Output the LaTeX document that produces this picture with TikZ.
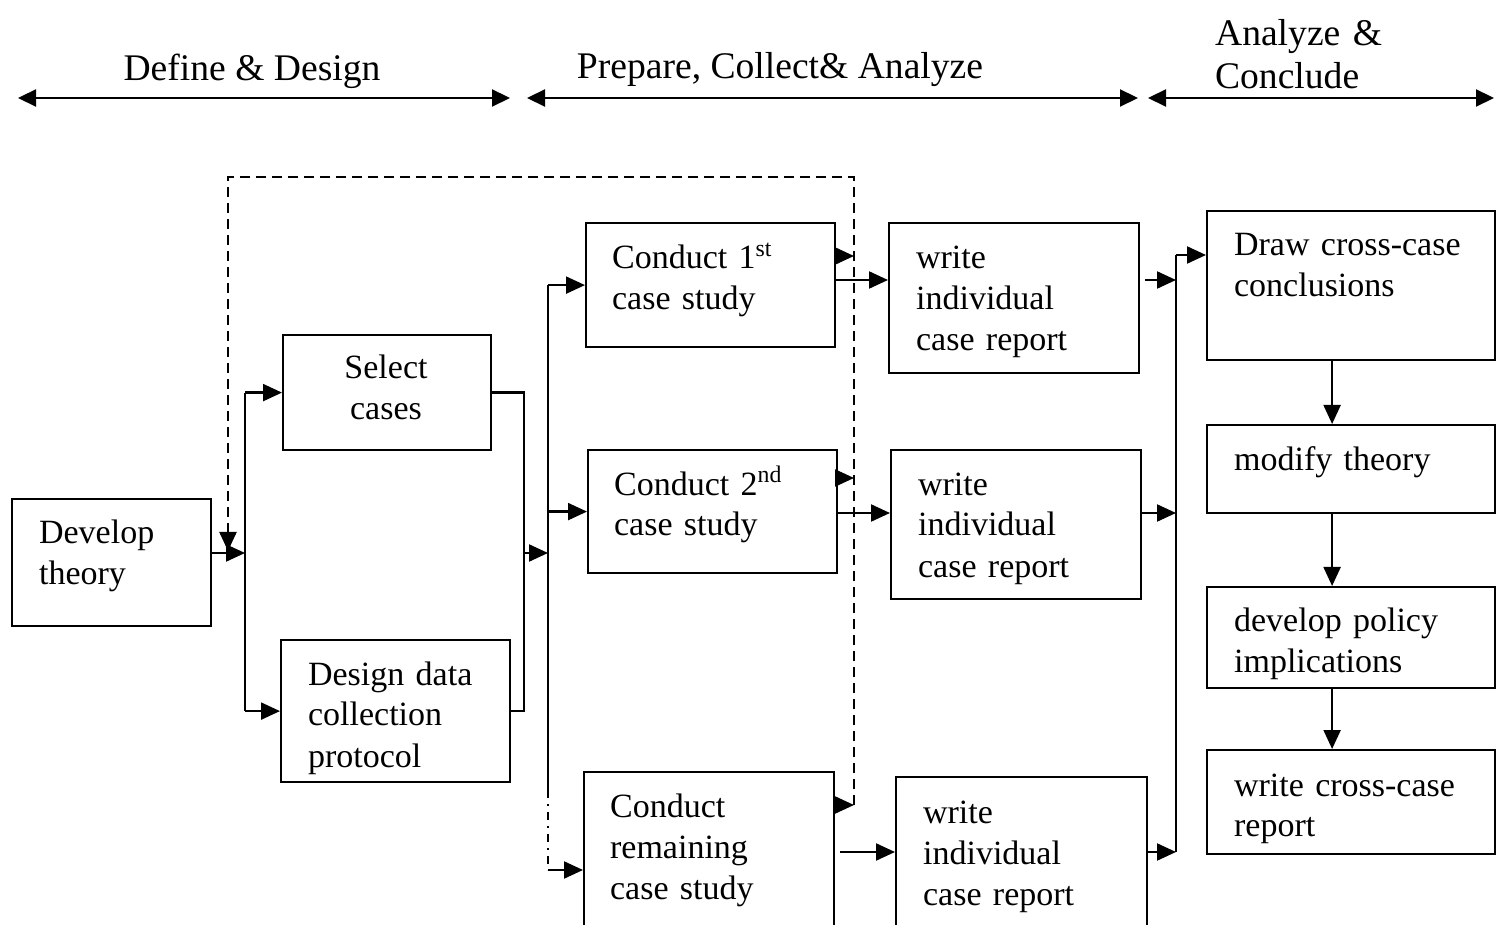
\documentclass[tikz,border=0pt]{standalone}
\usepackage{fontspec}
\setmainfont{Liberation Serif}
\usetikzlibrary{arrows.meta}
\begin{document}
\begin{tikzpicture}[x=0.5pt,y=-0.5pt, line width=1.1pt,
 arr/.style={-{Triangle[length=9.5pt,width=8.5pt]}},
 dbl/.style={{Triangle[length=9pt,width=8.5pt]}-{Triangle[length=9pt,width=8.5pt]}},
 box/.style={draw, inner sep=0pt, anchor=north west},
 bx/.style 2 args={box, minimum width=#1*0.5pt, minimum height=#2*0.5pt},
 lbl/.style={font=\fontsize{17pt}{20.5pt}\selectfont, inner sep=0pt, text width=140pt, align=left, anchor=base west},
 hdr/.style={font=\fontsize{18.8pt}{21.5pt}\selectfont, inner sep=0pt, anchor=base},
 fb/.style={dash pattern=on 5pt off 3pt},
 dd/.style={dash pattern=on 4pt off 3pt on 1pt off 3pt}]
\useasboundingbox (0,0) rectangle (1496,925);
\clip (0,0) rectangle (1496,925);

% header
\coordinate (h1a) at (18,98);   \coordinate (h1b) at (510,98);
\coordinate (h2a) at (527,98);  \coordinate (h2b) at (1138,98);
\coordinate (h3a) at (1148,98); \coordinate (h3b) at (1494,98);
\draw[dbl] (h1a) -- (h1b);
\draw[dbl] (h2a) -- (h2b);
\draw[dbl] (h3a) -- (h3b);
\node[hdr] (t1) at (252,81) {Define \& Design};
\node[hdr] (t2) at (780,79) {Prepare, Collect\& Analyze};
\node[hdr, anchor=base west, align=left, text width=150pt] (t3) at (1214,46) {Analyze \&\\Conclude};

% boxes
\node[bx={199}{127}] (dev) at (11,498) {};
\node[bx={208}{115}] (sel) at (282,334) {};
\node[bx={229}{142}] (des) at (280,639) {};
\node[bx={249}{124}] (c1) at (585,222) {};
\node[bx={249}{123}] (c2) at (587,449) {};
\node[bx={250}{169}] (c3) at (583,771) {};
\node[bx={250}{150}] (w1) at (888,222) {};
\node[bx={250}{149}] (w2) at (890,449) {};
\node[bx={251}{164}] (w3) at (895,776) {};
\node[bx={288}{149}] (dr) at (1206,210) {};
\node[bx={288}{88}]  (mt) at (1206,424) {};
\node[bx={288}{101}] (dp) at (1206,586) {};
\node[bx={288}{104}] (wr) at (1206,749) {};

% texts
\node[lbl] (ldev) at (38,544) {Develop\\theory};
\node[lbl, align=center, anchor=base, text width=100pt] (lsel) at (386,379) {Select\\cases};
\node[lbl] (ldes) at (307,685) {Design data\\collection\\protocol};
\node[lbl] (lc1) at (611,269) {Conduct 1\textsuperscript{st}\\case study};
\node[lbl] (lc2) at (613,495) {Conduct 2\textsuperscript{nd}\\case study};
\node[lbl] (lc3) at (609,817) {Conduct\\remaining\\case study};
\node[lbl] (lw1) at (915,269) {write\\individual\\case report};
\node[lbl] (lw2) at (917,495) {write\\individual\\case report};
\node[lbl] (lw3) at (922,823) {write\\individual\\case report};
\node[lbl] (ldr) at (1233,256) {Draw cross-case\\conclusions};
\node[lbl] (lmt) at (1233,471) {modify theory};
\node[lbl] (ldp) at (1233,632) {develop policy\\implications};
\node[lbl] (lwr) at (1233,796) {write cross-case\\report};

% junction coordinates
\coordinate (jA) at (245,553);
\coordinate (jB) at (524,553);
\coordinate (jC) at (548,553);
\coordinate (jD) at (548,870);
\coordinate (jE) at (548,790);

% develop -> select / design
\draw[arr] (dev.east |- jA) -- (jA);
\draw (sel.west -| jA) -- (des.west -| jA);
\draw[arr] (sel.west -| jA) -- (sel.west);
\draw[arr] (des.west -| jA) -- (des.west);

% select / design -> conduct bus
\draw (sel.east) -| (jB) |- (des.east);
\draw[arr] (jB) -- (jC);
\draw (c1.west -| jC) -- (jE);
\draw[dd] (jE) -- (jD);
\draw[arr] (c1.west -| jC) -- (c1.west);
\draw[arr] (c2.west -| jC) -- (c2.west);
\draw[arr] (jD) -- (c3.west |- jD);

% feedback dashed loop
\coordinate (f1) at (854,256);
\coordinate (f2) at (854,478);
\coordinate (f3) at (854,805);
\coordinate (fL) at (228,177);
\coordinate (fEnd) at (228,551);
\draw[arr] (c1.east |- f1) -- (f1);
\draw[arr] (c2.east |- f2) -- (f2);
\draw[arr] (c3.east |- f3) -- (f3);
\draw[fb, arr] (f3) |- (fL) -- (fEnd);

% conduct -> write
\coordinate (k1) at (0,280);
\coordinate (k2) at (0,513);
\coordinate (k3) at (0,852);
\draw[arr] (c1.east |- k1) -- (w1.west |- k1);
\draw[arr] (c2.east |- k2) -- (w2.west |- k2);
\draw[arr] ([xshift=2.5pt]c3.east |- k3) -- (w3.west |- k3);

% write -> right bus
\coordinate (b1) at (1176,280);
\coordinate (b2) at (1176,513);
\coordinate (b3) at (1176,852);
\coordinate (bT) at (1176,255);
\draw[arr] ([xshift=2.5pt]w1.east |- b1) -- (b1);
\draw[arr] (w2.east |- b2) -- (b2);
\draw[arr] (w3.east |- b3) -- (b3);
\draw (b3) -- (bT);
\draw[arr] (bT) -- (dr.west |- bT);

% right column
\draw[arr] ([xshift=-9.5pt]dr.south) -- ([xshift=-9.5pt]mt.north);
\draw[arr] ([xshift=-9.5pt]mt.south) -- ([xshift=-9.5pt]dp.north);
\draw[arr] ([xshift=-9.5pt]dp.south) -- ([xshift=-9.5pt]wr.north);
\end{tikzpicture}
\end{document}
